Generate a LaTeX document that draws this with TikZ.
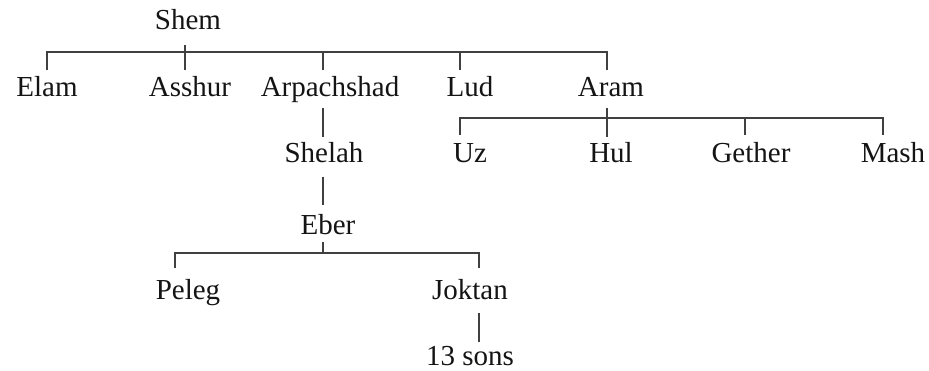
\documentclass[tikz,border=0pt]{standalone}
\usepackage{fontspec}
\setmainfont{Liberation Serif}
\begin{document}
\begin{tikzpicture}[x=1pt,y=-1pt,
  person/.style={anchor=base,inner sep=0pt,font=\fontsize{29}{30}\selectfont,text=black!92},
  link/.style={line width=1.6pt,draw=black!75}]
\useasboundingbox (0,0) rectangle (929,371);
% people
\node[person] (shem)   at (188,30)  {Shem};
\node[person] (elam)   at (47,97)   {Elam};
\node[person] (asshur) at (190,97)  {Asshur};
\node[person] (arpa)   at (330,97)  {Arpachshad};
\node[person] (lud)    at (470,97)  {Lud};
\node[person] (aram)   at (611,97)  {Aram};
\node[person] (shelah) at (324,163) {Shelah};
\node[person] (uz)     at (470,163) {Uz};
\node[person] (hul)    at (611,163) {Hul};
\node[person] (gether) at (751,163) {Gether};
\node[person] (mash)   at (893,163) {Mash};
\node[person] (eber)   at (328,235) {Eber};
\node[person] (peleg)  at (188,300) {Peleg};
\node[person] (joktan) at (470,300) {Joktan};
\node[person] (sons)   at (470,365) {13 sons};
% tick points of the brackets
\coordinate (shemA) at (185,45);
\coordinate (barL1) at (47,52);  \coordinate (barR1) at (607,52);
\coordinate (elamT) at (47,70);  \coordinate (asshurT) at (185,70);
\coordinate (arpaT) at (323,70); \coordinate (ludT) at (460,70);
\coordinate (aramT) at (607,70);
\coordinate (arpaB) at (323,108); \coordinate (shelahT) at (323,137);
\coordinate (aramB) at (607,108); \coordinate (hulT) at (607,137);
\coordinate (barL2) at (460,118); \coordinate (barR2) at (883,118);
\coordinate (uzT) at (460,135); \coordinate (getherT) at (745,135);
\coordinate (mashT) at (883,135);
\coordinate (shelahB) at (323,177); \coordinate (eberT) at (323,205);
\coordinate (eberB) at (323,242);
\coordinate (barL3) at (175,253); \coordinate (barR3) at (479,253);
\coordinate (pelegT) at (175,268); \coordinate (joktanT) at (479,268);
\coordinate (joktanB) at (479,313); \coordinate (sonsT) at (479,342);
% Shem's sons
\draw[link] (shemA) -- (asshurT);
\draw[link] (elamT) -- (barL1) -- (barR1) -- (aramT);
\draw[link] (arpaT) -- (arpaT |- barL1);
\draw[link] (ludT) -- (ludT |- barL1);
% line of Arpachshad
\draw[link] (arpaB) -- (shelahT);
\draw[link] (shelahB) -- (eberT);
% Aram's sons
\draw[link] (aramB) -- (hulT);
\draw[link] (uzT) -- (barL2) -- (barR2) -- (mashT);
\draw[link] (getherT) -- (getherT |- barL2);
% Eber's sons
\draw[link] (eberB) -- (eberB |- barL3);
\draw[link] (pelegT) -- (barL3) -- (barR3) -- (joktanT);
\draw[link] (joktanB) -- (sonsT);
\end{tikzpicture}
\end{document}
